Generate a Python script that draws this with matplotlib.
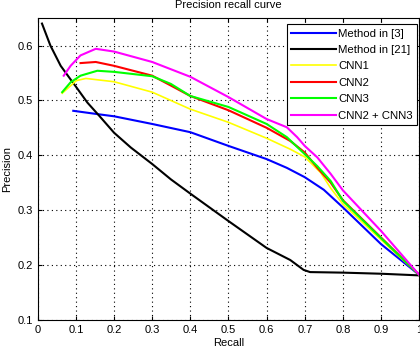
import numpy as np
import matplotlib
matplotlib.use("Agg")
import matplotlib.pyplot as plt

plt.rcParams["font.family"] = ["Liberation Sans", "DejaVu Sans"]

# -------- data --------
m3_recall = [0.093, 0.156, 0.20, 0.30, 0.40, 0.50, 0.60, 0.653, 0.70, 0.75, 0.80, 0.90, 1.0]
m3_prec   = [0.481, 0.475, 0.471, 0.457, 0.442, 0.417, 0.393, 0.377, 0.360, 0.337, 0.305, 0.238, 0.182]

m21_recall = [0.011, 0.033, 0.060, 0.082, 0.101, 0.130, 0.161, 0.20, 0.244, 0.30, 0.349, 0.40,
              0.50, 0.60, 0.662, 0.697, 0.714, 0.80, 0.90, 1.0]
m21_prec   = [0.640, 0.600, 0.563, 0.542, 0.524, 0.496, 0.472, 0.441, 0.414, 0.384, 0.356, 0.330,
              0.280, 0.231, 0.209, 0.191, 0.187, 0.186, 0.184, 0.181]

cnn1_recall = [0.064, 0.101, 0.126, 0.20, 0.30, 0.40, 0.50, 0.60, 0.662, 0.70, 0.742, 0.768, 0.80, 0.90, 1.0]
cnn1_prec   = [0.513, 0.536, 0.540, 0.534, 0.515, 0.484, 0.460, 0.431, 0.411, 0.397, 0.368, 0.340, 0.311, 0.246, 0.182]

cnn2_recall = [0.112, 0.152, 0.20, 0.30, 0.349, 0.40, 0.45, 0.50, 0.60, 0.662, 0.70, 0.733, 0.768, 0.80, 0.90, 1.0]
cnn2_prec   = [0.568, 0.570, 0.563, 0.545, 0.527, 0.508, 0.495, 0.482, 0.450, 0.426, 0.405, 0.377, 0.350, 0.318, 0.250, 0.182]

cnn3_recall = [0.064, 0.086, 0.112, 0.156, 0.20, 0.30, 0.349, 0.40, 0.50, 0.60, 0.653, 0.70, 0.733, 0.768, 0.80, 0.90, 1.0]
cnn3_prec   = [0.515, 0.533, 0.545, 0.554, 0.552, 0.544, 0.530, 0.508, 0.488, 0.457, 0.433, 0.402, 0.380, 0.353, 0.317, 0.249, 0.182]

cnn23_recall = [0.068, 0.086, 0.112, 0.152, 0.20, 0.30, 0.40, 0.50, 0.60, 0.653, 0.68, 0.70, 0.733, 0.768, 0.80, 0.90, 1.0]
cnn23_prec   = [0.545, 0.563, 0.582, 0.594, 0.589, 0.570, 0.543, 0.506, 0.466, 0.451, 0.433, 0.417, 0.396, 0.366, 0.336, 0.262, 0.182]

labels = ["Method in [3]", "Method in [21]", "CNN1", "CNN2", "CNN3", "CNN2 + CNN3"]

fig = plt.figure(figsize=(4.2, 3.48), dpi=100)
ax = fig.add_axes([0.09, 0.081, 0.908, 0.867])

ax.plot(m3_recall, m3_prec, color="#0000ff", lw=1.5, label=labels[0])
ax.plot(m21_recall, m21_prec, color="black", lw=1.5, label=labels[1])
ax.plot(cnn1_recall, cnn1_prec, color="#ffff00", lw=1.2, label=labels[2])
ax.plot(cnn2_recall, cnn2_prec, color="#ff0000", lw=1.5, label=labels[3])
ax.plot(cnn3_recall, cnn3_prec, color="#00ff00", lw=1.5, label=labels[4])
ax.plot(cnn23_recall, cnn23_prec, color="#ff00ff", lw=1.5, label=labels[5])

ax.set_xlim(0, 1)
ax.set_ylim(0.1, 0.65)
ax.set_xticks(np.arange(0, 1.01, 0.1))
ax.set_xticklabels(["0", "0.1", "0.2", "0.3", "0.4", "0.5", "0.6", "0.7", "0.8", "0.9", "1"])
ax.set_yticks([0.1, 0.2, 0.3, 0.4, 0.5, 0.6])
ax.tick_params(direction="in", labelsize=8, length=3, top=True, right=True)
ax.grid(True, color="black", linestyle=(0, (1, 3)), linewidth=0.8)
for s in ax.spines.values():
    s.set_linewidth(0.8)

ax.set_xlabel("Recall", fontsize=8, labelpad=2.5)
ax.set_ylabel("Precision", fontsize=8, labelpad=4)
ax.set_title("Precision recall curve", fontsize=8, pad=7)

leg = ax.legend(loc="upper right", bbox_to_anchor=(0.995, 0.98), borderaxespad=0,
                fontsize=8.2, fancybox=False, framealpha=1, edgecolor="black",
                handlelength=3.9, handletextpad=0.2, labelspacing=0.56)
leg.get_frame().set_linewidth(0.8)

fig.savefig("out.png", dpi=100)
